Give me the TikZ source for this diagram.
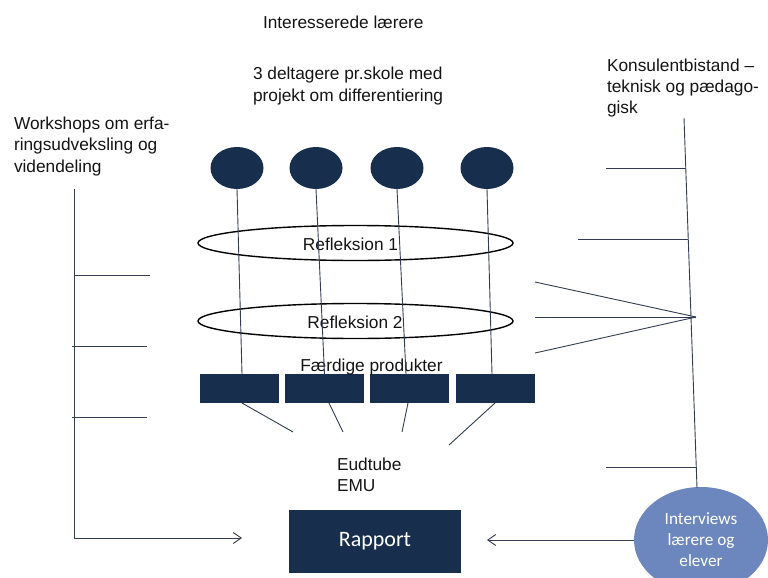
\documentclass[tikz,border=0pt]{standalone}
\usepackage{fontspec}
\setmainfont{Liberation Sans}
\newfontfamily\calibri{Carlito}
\usetikzlibrary{shapes.geometric,arrows.meta}
\definecolor{navy}{RGB}{23,46,76}
\definecolor{ivblue}{RGB}{107,135,190}
\definecolor{ln}{RGB}{50,60,82}
\definecolor{txt}{RGB}{20,20,20}
\begin{document}
\begin{tikzpicture}[x=1pt,y=-1pt,
  every node/.style={font=\fontsize{17.3}{21.5}\selectfont, text=txt, inner sep=0pt, outer sep=0pt},
  dot/.style={ellipse, fill=navy, minimum width=53pt, minimum height=42pt},
  prod/.style={rectangle, fill=navy, minimum width=79pt, minimum height=29pt},
  refl/.style={ellipse, draw=black, line width=1.4pt, minimum width=315pt, minimum height=35pt},
  conn/.style={draw=ln, line width=0.9pt},
  arr/.style={conn, -{Straight Barb[length=8pt,width=11pt]}}]
\useasboundingbox (0,0) rectangle (768,578);

% headings (base anchor = baseline of the last line)
\node[anchor=base west] (t1) at (263,29) {Interesserede lærere};
\node[anchor=base west, align=left] (t2) at (253,101) {3 deltagere pr.skole med\\projekt om differentiering};
\node[anchor=base west, align=left, font=\fontsize{17.3}{20.7}\selectfont] (t3) at (607,113) {Konsulentbistand –\\teknisk og pædago-\\gisk};
\node[anchor=base west, align=left] (t4) at (14,172) {Workshops om erfa-\\ringsudveksling og\\videndeling};

% participants
\node[dot] (c1) at (237,168) {};
\node[dot] (c2) at (316,168) {};
\node[dot] (c3) at (397,168) {};
\node[dot] (c4) at (487,168) {};

% reflection ellipses
\node[refl] (e1) at (355.5,243) {};
\node (e1t) at (350.5,244) {Refleksion 1};
\node[refl] (e2) at (355.5,321) {};
\node (e2t) at (355,322) {Refleksion 2};

% products
\node[prod] (r1) at (239.5,388.5) {};
\node[prod] (r2) at (324.5,388.5) {};
\node[prod] (r3) at (409.5,388.5) {};
\node[prod] (r4) at (495.5,388.5) {};
\node[anchor=base] (fp) at (371.5,371) {Færdige produkter};

% vertical lines from participants to products
\draw[conn] (c1.south) -- ([xshift=2.5pt]r1.north);
\draw[conn] (c2.south) -- (r2.north);
\draw[conn] (c3.south) -- ([xshift=-3.5pt]r3.north);
\draw[conn] (c4.south) -- ([xshift=-3.5pt]r4.north);

% lines towards Eudtube
\coordinate (u1) at (293,432);
\coordinate (u2) at (343,432);
\coordinate (u3) at (402,432);
\coordinate (u4) at (449,445);
\draw[conn] ([xshift=2.5pt]r1.south) -- (u1);
\draw[conn] ([xshift=4.5pt]r2.south) -- (u2);
\draw[conn] ([xshift=-1.5pt]r3.south) -- (u3);
\draw[conn] ([xshift=-0.5pt]r4.south) -- (u4);

\node[anchor=base west, align=left, font=\fontsize{17.3}{21}\selectfont] (eu) at (337,491) {Eudtube\\EMU};

% report
\node[rectangle, fill=navy, minimum width=172pt, minimum height=63pt,
      font=\calibri\fontsize{22}{26}\selectfont, text=white] (rap) at (375,541.5) {Rapport};

% interviews
\node[ellipse, fill=ivblue, minimum width=134pt, minimum height=106pt, align=center,
      font=\calibri\fontsize{17.2}{21}\selectfont, text=white] (iv) at (701,540) {Interviews\\lærere og\\elever};

% left workshop line
\coordinate (wl) at (74,189);
\coordinate (wc) at (74,538);
\coordinate (wa) at (242,538);
\draw[arr] (wl) -- (wc) -- (wa);
\coordinate (wt1a) at (74,275);  \coordinate (wt1b) at (150,275);
\coordinate (wt2a) at (72,346);  \coordinate (wt2b) at (147,346);
\coordinate (wt3a) at (72,417);  \coordinate (wt3b) at (147,417);
\draw[conn] (wt1a) -- (wt1b);
\draw[conn] (wt2a) -- (wt2b);
\draw[conn] (wt3a) -- (wt3b);

% right consultant line
\coordinate (kt) at (684,118);
\coordinate (kb) at (697,488);
\draw[conn] (kt) -- (kb);
\coordinate (k1a) at (606,168); \coordinate (k1b) at (685.8,168);
\coordinate (k2a) at (578,239); \coordinate (k2b) at (688.3,239);
\coordinate (k3a) at (606,467); \coordinate (k3b) at (696.5,467);
\draw[conn] (k1a) -- (k1b);
\draw[conn] (k2a) -- (k2b);
\draw[conn] (k3a) -- (k3b);
\coordinate (kf) at (696,317);
\coordinate (f1) at (535,282);
\coordinate (f2) at (535,317);
\coordinate (f3) at (535,353);
\draw[conn] (f1) -- (kf);
\draw[conn] (f2) -- (kf);
\draw[conn] (f3) -- (kf);

% arrow from interviews to report
\coordinate (ra) at (487,540);
\draw[arr] (iv.west) -- (ra);
\end{tikzpicture}
\end{document}
